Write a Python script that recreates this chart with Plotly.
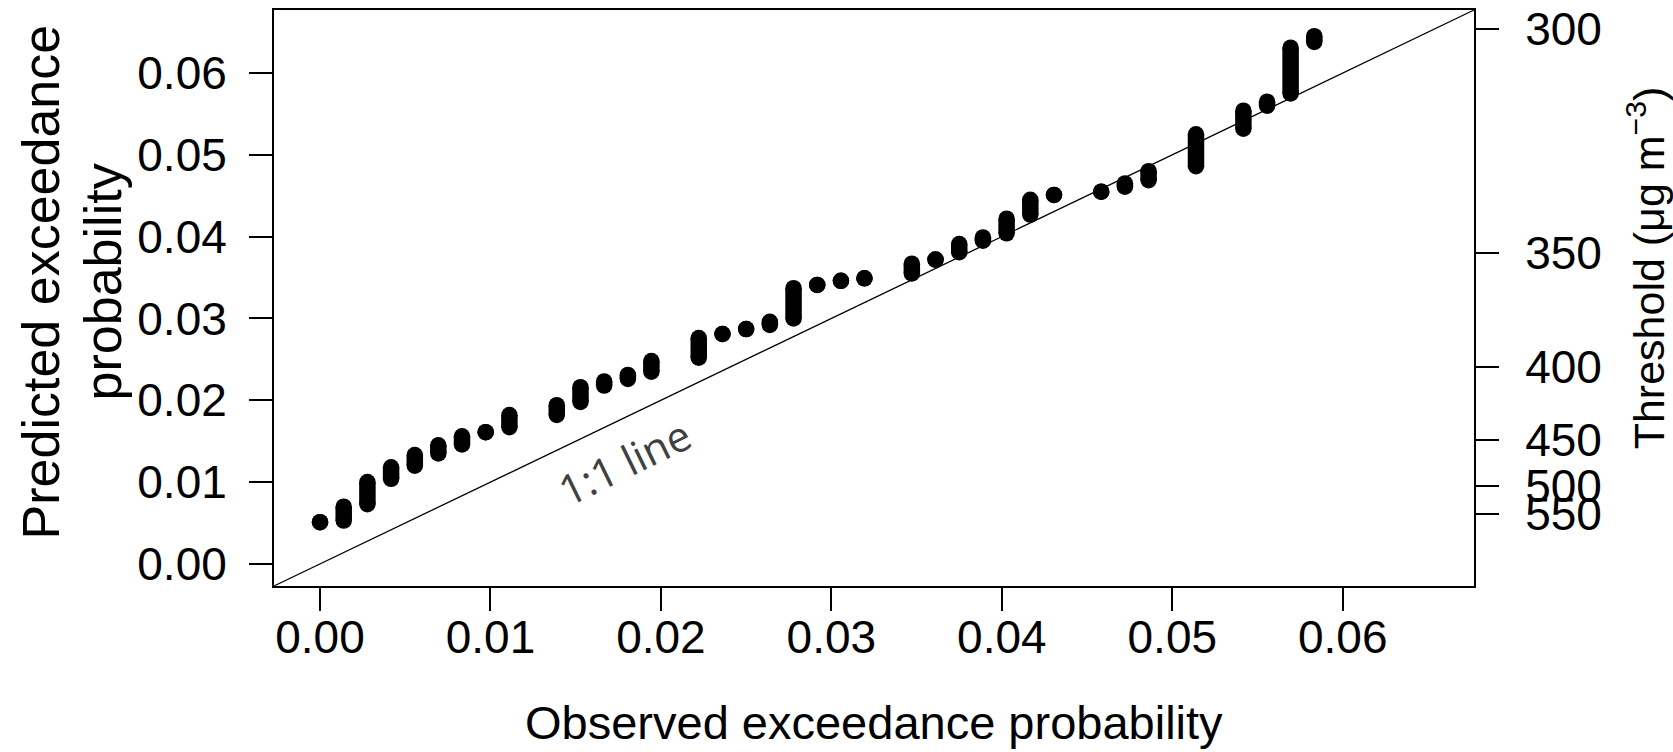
import plotly.graph_objects as go

# ---- data ----
observed = [0.0000, 0.00139, 0.00278, 0.00417, 0.00556, 0.00694, 0.00833, 0.00972,
            0.01111, 0.01389, 0.01528, 0.01667, 0.01806, 0.01944, 0.02222, 0.02361,
            0.02500, 0.02639, 0.02778, 0.02917, 0.03056, 0.03194, 0.03472, 0.03611,
            0.03750, 0.03889, 0.04028, 0.04167, 0.04306, 0.04583, 0.04722, 0.04861,
            0.05139, 0.05417, 0.05556, 0.05694, 0.05833]
pred_low = [0.0051, 0.0053, 0.0073, 0.0104, 0.0120, 0.0135, 0.0146, 0.0161,
            0.0167, 0.0182, 0.0198, 0.0218, 0.0226, 0.0235, 0.0252, 0.0281,
            0.0287, 0.0292, 0.0300, 0.0341, 0.0346, 0.0349, 0.0355, 0.0372,
            0.0381, 0.0395, 0.0404, 0.0427, 0.0451, 0.0455, 0.0461, 0.0469,
            0.0486, 0.0532, 0.0560, 0.0575, 0.0638]
pred_high = [0.0051, 0.0070, 0.0100, 0.0118, 0.0133, 0.0145, 0.0156, 0.0161,
             0.0182, 0.0194, 0.0216, 0.0223, 0.0231, 0.0248, 0.0276, 0.0281,
             0.0287, 0.0296, 0.0337, 0.0341, 0.0346, 0.0349, 0.0367, 0.0372,
             0.0391, 0.0399, 0.0422, 0.0445, 0.0451, 0.0455, 0.0465, 0.0480,
             0.0525, 0.0554, 0.0565, 0.0631, 0.0645]
prob_ticks = [0.00, 0.01, 0.02, 0.03, 0.04, 0.05, 0.06]
threshold_labels = ["300", "350", "400", "450", "500", "550"]
threshold_probs = [0.0654, 0.0380, 0.0241, 0.0152, 0.0095, 0.0061]

# ---- layout geometry ----
W, H = 1673, 752
L, R, T, B = 273.5, 198.7, 10, 165.5
pw, ph = W - L - R, H - T - B
RANGE = [-0.0027, 0.0677]
FONT = "Arial, Liberation Sans, sans-serif"
TICK_FS = 46
TITLE_FS = 47


def px(xp):
    return (xp - L) / pw


def py(yp):
    return (H - B - yp) / ph


xs, ys = [], []
for o, lo, hi in zip(observed, pred_low, pred_high):
    xs += [o, o, None]
    ys += [lo, hi, None]

fig = go.Figure()
fig.add_trace(go.Scatter(
    x=xs, y=ys, mode="lines+markers",
    line=dict(color="black", width=16.5),
    marker=dict(color="black", size=16.5, line=dict(width=0)),
    showlegend=False, hoverinfo="skip", connectgaps=False,
))
# invisible trace to activate the right axis
fig.add_trace(go.Scatter(x=[None], y=[None], yaxis="y2", showlegend=False))

fig.add_shape(type="line", xref="paper", yref="paper", x0=0, y0=0, x1=1, y1=1,
              line=dict(color="black", width=1.3), layer="below")

axis_common = dict(
    range=RANGE, showgrid=False, zeroline=False, showline=True, automargin=False,
    linecolor="black", linewidth=2, ticks="outside", ticklen=23, tickwidth=2,
    tickcolor="black", tickfont=dict(family=FONT, size=TICK_FS, color="black"),
)
fig.update_layout(
    width=W, height=H, plot_bgcolor="white", paper_bgcolor="white",
    margin=dict(l=L, r=R, t=T, b=B, pad=0, autoexpand=False),
    xaxis=dict(**axis_common, tickvals=prob_ticks, tickformat=".2f", mirror=True,
               ticklabelstandoff=-13),
    yaxis=dict(**axis_common, tickvals=prob_ticks, tickformat=".2f", mirror=True,
               ticklabelstandoff=13),
    yaxis2=dict(**axis_common, overlaying="y", side="right",
                tickvals=threshold_probs, ticktext=threshold_labels,
                ticklabelstandoff=17),
    annotations=[
        dict(text="Observed exceedance probability", xref="paper", yref="paper",
             x=px(874), y=py(723), xanchor="center", yanchor="middle",
             showarrow=False, font=dict(family=FONT, size=TITLE_FS, color="black")),
        dict(text="Predicted exceedance", xref="paper", yref="paper",
             x=px(40), y=py(282), xanchor="center", yanchor="middle", textangle=-90,
             showarrow=False, font=dict(family=FONT, size=52, color="black")),
        dict(text="probability", xref="paper", yref="paper",
             x=px(102), y=py(282), xanchor="center", yanchor="middle", textangle=-90,
             showarrow=False, font=dict(family=FONT, size=52, color="black")),
        dict(text="Threshold (μg m<sup>−3</sup>)", xref="paper", yref="paper",
             x=px(1646), y=py(268), xanchor="center", yanchor="middle", textangle=-90,
             showarrow=False, font=dict(family=FONT, size=43, color="black")),
        dict(text="1:1 line", xref="paper", yref="paper",
             x=px(624), y=py(462), xanchor="center", yanchor="middle", textangle=-26,
             showarrow=False, font=dict(family="Open Sans, sans-serif", size=42,
                                        color="#404040")),
    ],
)
fig.write_html("out.html")
